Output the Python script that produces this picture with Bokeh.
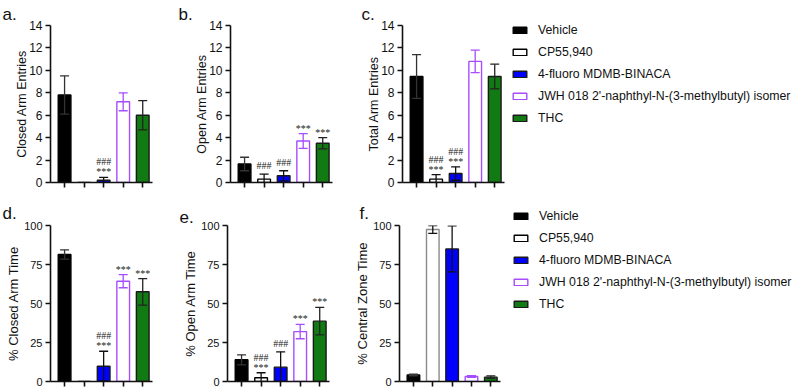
from bokeh.plotting import figure
from bokeh.layouts import column, row
from bokeh.models import (ColumnDataSource, Legend, LegendItem, LabelSet, FixedTicker,
                          Range1d, CustomLabelingPolicy)
from bokeh.embed import file_html
from bokeh.resources import INLINE

FONT = "Liberation Sans"

groups = ["Vehicle", "CP55,940", "4-fluoro MDMB-BINACA",
          "JWH 018 2'-naphthyl-N-(3-methylbutyl) isomer", "THC"]
positions = [1, 2, 3, 4, 5]
fill_colors = ["#000000", "#ffffff", "#0000ff", "#ffffff", "#127a12"]
line_colors = ["#000000", "#000000", "#1a1a1a", "#a64dff", "#1a1a1a"]
err_colors = ["#333333", "#111111", "#111111", "#a64dff", "#222222"]

# a. Closed Arm Entries
closed_entries = [7.8, 0.0, 0.2, 7.2, 6.0]
closed_entries_sem = [1.7, 0.0, 0.25, 0.8, 1.3]
closed_entries_stars = ["", "", "***", "", ""]
closed_entries_hash = ["", "", "###", "", ""]
# b. Open Arm Entries
open_entries = [1.65, 0.3, 0.6, 3.7, 3.5]
open_entries_sem = [0.6, 0.45, 0.45, 0.65, 0.5]
open_entries_stars = ["", "", "", "***", "***"]
open_entries_hash = ["", "###", "###", "", ""]
# c. Total Arm Entries
total_entries = [9.45, 0.3, 0.8, 10.8, 9.45]
total_entries_sem = [1.95, 0.4, 0.6, 1.0, 1.1]
total_entries_stars = ["", "***", "***", "", ""]
total_entries_hash = ["", "###", "###", "", ""]
# d. % Closed Arm Time
closed_time = [81.4, 0.0, 9.8, 64.3, 57.5]
closed_time_sem = [3.0, 0.0, 9.6, 4.2, 8.5]
closed_time_stars = ["", "", "***", "***", "***"]
closed_time_hash = ["", "", "###", "", ""]
# e. % Open Arm Time
open_time = [13.9, 2.4, 9.2, 32.0, 38.7]
open_time_sem = [3.2, 3.2, 9.8, 4.6, 8.8]
open_time_stars = ["", "***", "", "***", "***"]
open_time_hash = ["", "###", "###", "", ""]
# f. % Central Zone Time
central_time = [4.2, 97.4, 85.0, 3.2, 2.8]
central_time_sem = [0.5, 2.5, 14.7, 0.5, 0.8]
central_time_stars = ["", "***", "***", "", ""]
central_time_hash = ["", "###", "###", "", ""]

entries_ticks = [0, 2, 4, 6, 8, 10, 12, 14]
percent_ticks = [0, 25, 50, 75, 100]

X0, X1 = 0.28, 5.5


def panel(letter, ylabel, means, sems, stars, hashes, ymax, yticks,
          width, height, bl, br, bt, bb, title_offset, title_standoff,
          tick_size, label_size, label_standoff, cp_line=None):
    p = figure(width=width, height=height, x_range=Range1d(X0, X1),
               y_range=Range1d(0, ymax), output_backend="svg",
               toolbar_location=None, min_border_left=bl, min_border_right=br,
               min_border_top=bt, min_border_bottom=bb,
               title=letter)
    p.outline_line_color = None
    p.grid.visible = False
    p.background_fill_color = None
    p.border_fill_color = None
    p.title.text_font = FONT
    p.title.text_font_size = "17px"
    p.title.text_font_style = "normal"
    p.title.text_color = "#111111"
    p.title.align = "left"
    p.title.offset = title_offset
    p.title.standoff = title_standoff

    for ax in (p.xaxis[0], p.yaxis[0]):
        ax.axis_line_width = 1.6
        ax.axis_line_color = "#111111"
        ax.major_tick_line_width = 1.6
        ax.major_tick_line_color = "#111111"
        ax.minor_tick_line_color = None
        ax.major_tick_in = 0
        ax.major_tick_out = 5
    p.xaxis.ticker = FixedTicker(ticks=positions)
    p.xaxis.major_label_text_font_size = "0px"
    p.xaxis.major_label_standoff = 0
    p.xaxis.major_label_policy = CustomLabelingPolicy(code="return new Set()")
    p.yaxis.ticker = FixedTicker(ticks=yticks)
    p.yaxis.major_label_text_font = FONT
    p.yaxis.major_label_text_font_size = tick_size
    p.yaxis.major_label_text_color = "#111111"
    p.yaxis.major_label_standoff = 3
    p.yaxis.axis_label = ylabel
    p.yaxis.axis_label_text_font = FONT
    p.yaxis.axis_label_text_font_size = label_size
    p.yaxis.axis_label_text_font_style = "normal"
    p.yaxis.axis_label_text_color = "#111111"
    p.yaxis.axis_label_standoff = label_standoff

    for i in range(5):
        lc = line_colors[i]
        if cp_line is not None and i == 1:
            lc = cp_line
        src = ColumnDataSource(dict(x=[positions[i]], top=[means[i]]))
        p.vbar(x="x", top="top", bottom=0, width=0.65, source=src,
               fill_color=fill_colors[i], line_color=lc, line_width=1.4)

    for i in range(5):
        if sems[i] <= 0:
            continue
        lo = means[i] - sems[i]
        hi = means[i] + sems[i]
        esrc = ColumnDataSource(dict(x=[positions[i]], lo=[lo], hi=[hi]))
        p.segment(x0="x", y0="lo", x1="x", y1="hi", source=esrc,
                  line_color=err_colors[i], line_width=1.3)
        p.scatter(x="x", y="hi", source=esrc, marker="dash", size=9,
                  line_color=err_colors[i], line_width=1.3)
        p.scatter(x="x", y="lo", source=esrc, marker="dash", size=9,
                  line_color=err_colors[i], line_width=1.3)

    lx, ly, lt, lo_ = [], [], [], []
    for i in range(5):
        top = means[i] + sems[i]
        if stars[i]:
            lx.append(positions[i]); ly.append(top); lt.append(stars[i]); lo_.append(0)
            if hashes[i]:
                lx.append(positions[i]); ly.append(top); lt.append(hashes[i]); lo_.append(10)
        elif hashes[i]:
            lx.append(positions[i]); ly.append(top); lt.append(hashes[i]); lo_.append(3)
    asrc = ColumnDataSource(dict(x=lx, y=ly, text=lt, yo=lo_))
    labels = LabelSet(x="x", y="y", text="text", y_offset="yo", source=asrc,
                      text_align="center", text_baseline="bottom",
                      text_font=FONT, text_font_size="10px", text_color="#222222")
    p.add_layout(labels)
    return p


def legend_fig(width, height, means, loc):
    p = figure(width=width, height=height, x_axis_type=None, y_axis_type=None,
               x_range=Range1d(X0, X1), y_range=Range1d(0, 1), title=None,
               output_backend="svg", toolbar_location=None, min_border=0)
    p.outline_line_color = None
    p.grid.visible = False
    p.background_fill_color = None
    p.border_fill_color = None
    items = []
    for i in range(5):
        src = ColumnDataSource(dict(x=[positions[i]], top=[means[i]]))
        r = p.vbar(x="x", top="top", bottom=0, width=0.65, source=src,
                   fill_color=fill_colors[i], line_color=line_colors[i],
                   line_width=1.4, visible=False)
        items.append(LegendItem(label=groups[i], renderers=[r]))
    leg = Legend(items=items, location=loc, orientation="vertical",
                 glyph_width=17, glyph_height=8, label_height=14, spacing=8,
                 label_standoff=10, padding=0, margin=0,
                 border_line_alpha=0, background_fill_alpha=0,
                 label_text_font=FONT, label_text_font_size="12.3px",
                 label_text_color="#111111")
    p.add_layout(leg)
    return p


TOP_H, BOT_H = 197, 191

pa = panel("a.", "Closed Arm Entries", closed_entries, closed_entries_sem,
           closed_entries_stars, closed_entries_hash, 14, entries_ticks,
           172, TOP_H, 50, 20, 25, 15, -48, 4, "12px", "12.5px", -3)
pb = panel("b.", "Open Arm Entries", open_entries, open_entries_sem,
           open_entries_stars, open_entries_hash, 14, entries_ticks,
           183, TOP_H, 58, 23, 25, 15, -52, 4, "12px", "12.5px", -3)
pc = panel("c.", "Total Arm Entries", total_entries, total_entries_sem,
           total_entries_stars, total_entries_hash, 14, entries_ticks,
           154, TOP_H, 47, 5, 25, 15, -41, 4, "12px", "12.5px", -3)
leg_top = legend_fig(285, TOP_H, total_entries, (2, 72))

pd = panel("d.", "% Closed Arm Time", closed_time, closed_time_sem,
           closed_time_stars, closed_time_hash, 100, percent_ticks,
           170, BOT_H, 50, 18, 28, 7, -48, 6, "11px", "13px", 0)
pe = panel("e.", "% Open Arm Time", open_time, open_time_sem,
           open_time_stars, open_time_hash, 100, percent_ticks,
           182, BOT_H, 57, 23, 28, 7, -48, 6, "11px", "13px", 0)
pf = panel("f.", "% Central Zone Time", central_time, central_time_sem,
           central_time_stars, central_time_hash, 100, percent_ticks,
           153, BOT_H, 46, 5, 28, 7, -40, 6, "11px", "13px", 0,
           cp_line="#8a8a8a")
leg_bot = legend_fig(285, BOT_H, central_time, (3, 77))

charts = column(row(pa, pb, pc), row(pd, pe, pf))
legends = column(leg_top, leg_bot)
layout = row(charts, legends)

with open("out.html", "w") as f:
    f.write(file_html(layout, INLINE))
